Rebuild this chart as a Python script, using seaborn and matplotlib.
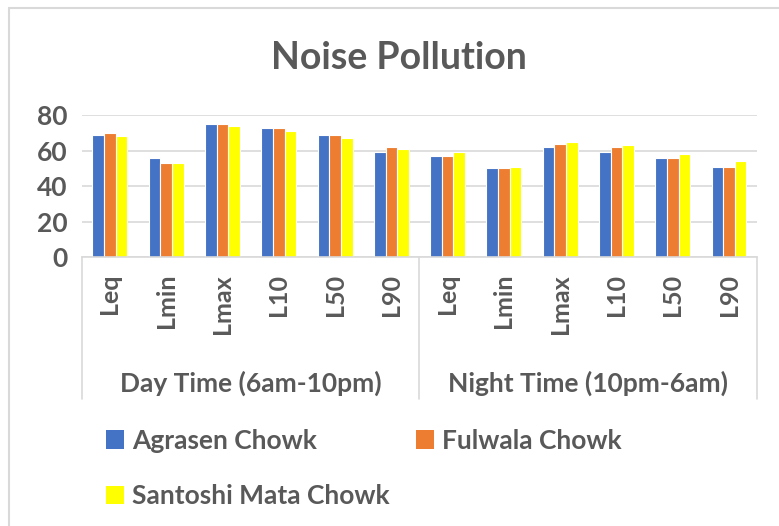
import matplotlib
matplotlib.use("Agg")
import matplotlib.pyplot as plt
import pandas as pd
import seaborn as sns
from matplotlib.patches import Patch
from matplotlib.lines import Line2D

# data
periods = ["Day Time (6am-10pm)", "Night Time (10pm-6am)"]
measures = ["Leq", "Lmin", "Lmax", "L10", "L50", "L90"]
sites = ["Agrasen Chowk", "Fulwala Chowk", "Santoshi Mata Chowk"]

agrasen = [69, 56, 75, 73, 69, 59, 57, 50, 62, 59, 56, 51]
fulwala = [70, 53, 75, 73, 69, 62, 57, 50, 64, 62, 56, 51]
santoshi = [68, 53, 74, 71, 67, 61, 59, 51, 65, 63, 58, 54]

colors = ["#4472C4", "#ED7D31", "#FFFF00"]
text_color = "#595959"

slots = [f"{p} {m}" for p in periods for m in measures]
rows = []
for site, vals in zip(sites, [agrasen, fulwala, santoshi]):
    for slot, v in zip(slots, vals):
        rows.append({"slot": slot, "value": v, "site": site})
df = pd.DataFrame(rows)

sns.set_style("white")
plt.rcParams["font.family"] = ["Lato", "DejaVu Sans"]
plt.rcParams["font.weight"] = "bold"

fig = plt.figure(figsize=(7.79, 5.26), dpi=100)
ax = fig.add_axes([0.105, 0.511, 0.867, 0.27])

sns.barplot(data=df, x="slot", y="value", hue="site", order=slots, hue_order=sites,
            palette=colors, saturation=1, width=0.62, edgecolor="white", linewidth=0.8,
            legend=False, ax=ax)

ax.set_ylim(0, 80)
ax.set_xlim(-0.5, len(slots) - 0.5)
ax.set_yticks([0, 20, 40, 60, 80])
ax.yaxis.grid(True, color="#D9D9D9", linewidth=1.2)
ax.set_axisbelow(True)
for s in ["top", "right", "left"]:
    ax.spines[s].set_visible(False)
ax.spines["bottom"].set_color("#D9D9D9")
ax.spines["bottom"].set_linewidth(1.2)
ax.set_xlabel("")
ax.set_ylabel("")

ax.set_xticks(range(len(slots)))
ax.set_xticklabels(measures * len(periods), rotation=90)
ax.tick_params(axis="x", length=0, pad=12, labelsize=18, colors=text_color)
ax.tick_params(axis="y", length=0, pad=10, labelsize=19, colors=text_color)

# group separators and group labels under the category axis
trans = ax.get_xaxis_transform()
for xpos in [-0.5, 5.5, 11.5]:
    ax.add_line(Line2D([xpos, xpos], [0, -1.0], transform=trans, color="#D9D9D9",
                       linewidth=1.2, clip_on=False))
for i, p in enumerate(periods):
    ax.text(i * 6 + 2.5, -0.885, p, transform=trans, ha="center", va="center",
            fontsize=19, color=text_color)

fig.text(0.512, 0.89, "Noise Pollution", ha="center", va="center",
         fontsize=27, color=text_color)

handles = [Patch(facecolor=c, edgecolor="none") for c in colors]
order = [0, 2, 1]
fig.legend([handles[i] for i in order], [sites[i] for i in order], ncol=2,
           loc="upper left", bbox_to_anchor=(0.105, 0.23), frameon=False,
           fontsize=19, labelcolor=text_color, handlelength=0.7, handleheight=0.7,
           handletextpad=0.3, columnspacing=1.0, labelspacing=1.2)

# light outer frame (top and left edges visible in the crop)
fig.add_artist(Line2D([0.011, 0.011], [0, 0.985], transform=fig.transFigure,
                      color="#D9D9D9", linewidth=1.5))
fig.add_artist(Line2D([0.011, 1], [0.985, 0.985], transform=fig.transFigure,
                      color="#D9D9D9", linewidth=1.5))

fig.savefig("out.png", dpi=100)
